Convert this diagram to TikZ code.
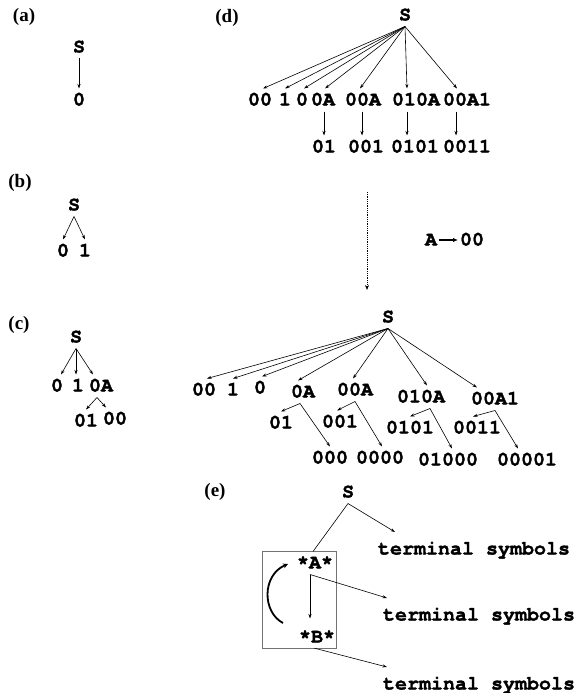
\documentclass[tikz,border=0pt]{standalone}
\usepackage{fontspec}
\setmainfont{Liberation Serif}
\newfontfamily\monofam[BoldFeatures={FakeBold=1.6}]{TeX Gyre Cursor}
\usetikzlibrary{arrows.meta,calc}
\tikzset{
  mono/.style={font=\monofam\bfseries\fontsize{20}{20}\selectfont, inner sep=0pt, outer xsep=0pt, outer ysep=6pt, text height=11pt, text depth=0pt},
  term/.style={mono, outer ysep=11.5pt, anchor=west},
  lab/.style={font=\bfseries\fontsize{19}{19}\selectfont, inner sep=0pt},
  arr/.style={-{Stealth[length=4.5pt,width=3pt]}, line width=0.6pt},
  plain/.style={line width=0.6pt},
}
\begin{document}
\begin{tikzpicture}[x=1pt,y=-1pt]
\useasboundingbox (0,0) rectangle (580,693);
% (a)
\node[lab] (la) at (24,17) {(a)};
\node[mono] (aS) at (79,47) {S};
\node[mono] (a0) at (79,100) {0};
\draw[arr] (aS.south) -- (a0.north);
% (b)
\node[lab] (lb) at (20,183) {(b)};
\node[mono] (bS) at (74,205) {S};
\node[mono] (b0) at (63,251) {0};
\node[mono] (b1) at (85,251) {1};
\draw[arr] (bS.south) -- (b0.north);
\draw[arr] (bS.south) -- (b1.north);
% (c)
\node[lab] (lc) at (19,325) {(c)};
\node[mono] (cS) at (76,337) {S};
\node[mono] (c0) at (57,386) {0};
\node[mono] (c1) at (78,386) {1};
\node[mono] (c0A) at (101,386) {0A};
\node[mono] (c01) at (86,421) {01};
\node[mono] (c00) at (115,419) {00};
\draw[arr] (cS.south) -- ([xshift=4pt]c0.north);
\draw[arr] (cS.south) -- ([xshift=-2pt]c1.north);
\draw[arr] (cS.south) -- ([xshift=-8pt]c0A.north);
\draw[arr] ([xshift=-4pt]c0A.south) -- (c01.north);
\draw[arr] ([xshift=-4pt]c0A.south) -- ([xshift=-9pt]c00.north);
% (d) upper
\node[lab] (ld) at (227,18) {(d)};
\node[mono] (dS) at (405,15) {S};
\node[mono] (d00) at (260,100) {00};
\node[mono] (d1) at (285,100) {1};
\node[mono] (d0) at (302,100) {0};
\node[mono] (d0A) at (323,100) {0A};
\node[mono] (d00A) at (363,100) {00A};
\node[mono] (d010A) at (416,100) {010A};
\node[mono] (d00A1) at (467,100) {00A1};
\draw[arr] (dS.south) -- ([xshift=3pt]d00.north);
\draw[arr] (dS.south) -- (d1.north);
\draw[arr] (dS.south) -- ([xshift=2pt]d0.north);
\draw[arr] (dS.south) -- ([xshift=2pt]d0A.north);
\draw[arr] (dS.south) -- ([xshift=-3pt]d00A.north);
\draw[arr] (dS.south) -- ([xshift=-9pt]d010A.north);
\draw[arr] (dS.south) -- ([xshift=-10pt]d00A1.north);
\node[mono] (e01) at (324,147) {01};
\node[mono] (e001) at (366,147) {001};
\node[mono] (e0101) at (415,147) {0101};
\node[mono] (e0011) at (467,147) {0011};
\draw[arr] ([xshift=1pt]d0A.south) -- ([xshift=1pt]d0A.south |- e01.north);
\draw[arr] ([xshift=-1pt]d00A.south) -- ([xshift=-1pt]d00A.south |- e001.north);
\draw[arr] ([xshift=-9pt]d010A.south) -- ([xshift=-9pt]d010A.south |- e0101.north);
\draw[arr] ([xshift=-11pt]d00A1.south) -- ([xshift=-11pt]d00A1.south |- e0011.north);
% transition
\coordinate (dotTop) at (367,192);
\coordinate (dotBot) at (367,290);
\draw[-{Stealth[length=5pt,width=4pt]}, line width=0.8pt, densely dotted] (dotTop) -- (dotBot);
\node[mono] (rA) at (431,240) {A};
\node[mono] (r00) at (472,240) {00};
\draw[-{Latex[length=5pt,width=4.5pt]}, line width=1.1pt] ([xshift=2pt]rA.east) -- ([xshift=-2pt]r00.west);
% (d) lower
\node[mono] (fS) at (388,317) {S};
\node[mono] (f00) at (204,390) {00};
\node[mono] (f1) at (233,390) {1};
\node[mono] (f0) at (260,388) {0};
\node[mono] (f0A) at (303,392) {0A};
\node[mono] (f00A) at (355,390) {00A};
\node[mono] (f010A) at (421,397) {010A};
\node[mono] (f00A1) at (495,399) {00A1};
\draw[arr] (fS.south) -- ([xshift=3pt]f00.north);
\draw[arr] (fS.south) -- (f1.north);
\draw[arr] (fS.south) -- ([xshift=2pt]f0.north);
\draw[arr] (fS.south) -- ([xshift=-5pt]f0A.north);
\draw[arr] (fS.south) -- ([xshift=-2pt]f00A.north);
\draw[arr] (fS.south) -- ([xshift=6pt]f010A.north);
\draw[arr] (fS.south) -- ([xshift=-18pt]f00A1.north);
\node[mono] (g01) at (281,423) {01};
\node[mono] (g001) at (340,422) {001};
\node[mono] (g0101) at (410,428) {0101};
\node[mono] (g0011) at (477,428) {0011};
\node[mono] (h000) at (330,458) {000};
\node[mono] (h0000) at (380,458) {0000};
\node[mono] (h01000) at (448,460) {01000};
\node[mono] (h00001) at (527,460) {00001};
\draw[arr] ([xshift=-3pt]f0A.south) -- (g01.north);
\draw[arr] ([xshift=-3pt]f0A.south) -- (h000.north);
\draw[arr] (f00A.south) -- ([xshift=-3pt]g001.north);
\draw[arr] (f00A.south) -- ([xshift=2pt]h0000.north);
\draw[arr] ([xshift=9pt]f010A.south) -- (g0101.north);
\draw[arr] ([xshift=9pt]f010A.south) -- ([xshift=4pt]h01000.north);
\draw[arr] (f00A1.south) -- ([xshift=-4pt]g0011.north);
\draw[arr] (f00A1.south) -- ([xshift=-9pt]h00001.north);
% (e)
\node[lab] (le) at (215,492) {(e)};
\node[mono] (eS) at (348,492) {S};
\node[draw=black!55, line width=0.4pt, minimum width=74pt, minimum height=97pt, inner sep=0pt] (box) at (299.5,599.5) {};
\node[mono] (eA) at (315,563) {*A*};
\node[mono] (eB) at (317,637) {*B*};
\node[term] (t1) at (378,549) {terminal symbols};
\node[term] (t2) at (383,615) {terminal symbols};
\node[term] (t3) at (383,684) {terminal symbols};
\draw[plain] (eS.south) -- ([xshift=-2pt]eA.north);
\draw[arr] (eS.south) -- ([xshift=17pt]t1.north west);
\draw[arr, shorten >=7pt] ([xshift=-5pt]eA.south) -- ([xshift=-5pt]eA.south |- eB.north);
\draw[arr] ([xshift=-5pt]eA.south) -- ([xshift=4pt]t2.north west);
\draw[arr] ([xshift=15pt]box.south) -- ([xshift=4pt]t3.north west);
\coordinate (cb) at (283,623);
\coordinate (ct) at (288,564);
\draw[-{Stealth[length=5pt,width=5pt]}, line width=1.8pt] (cb) .. controls (262,612) and (262,575) .. (ct);
\end{tikzpicture}
\end{document}
